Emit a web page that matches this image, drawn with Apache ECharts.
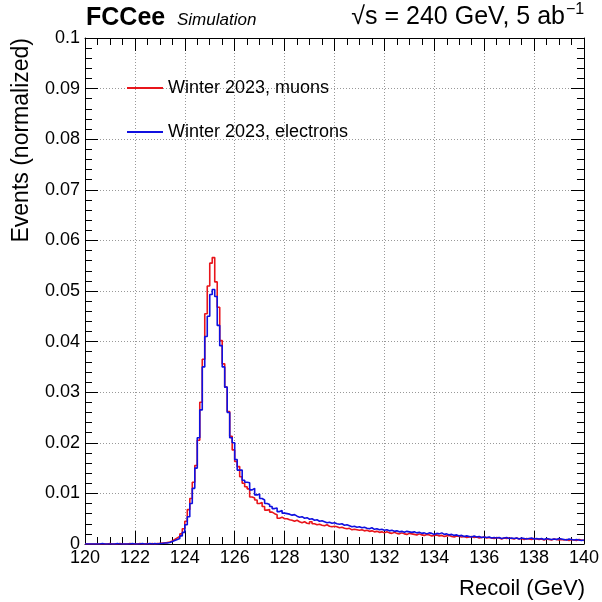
<!DOCTYPE html>
<html>
<head>
<meta charset="utf-8">
<script src="https://cdn.jsdelivr.net/npm/echarts@6/dist/echarts.min.js"></script>
<style>
html,body{margin:0;padding:0;background:#fff;}
#chart{width:602px;height:602px;}
</style>
</head>
<body>
<div id="chart"></div>
<script>
// Histogram binning
const binMin = 120;
const binWidth = 0.1;

// Tick labels
const xTicks = [120,122,124,126,128,130,132,134,136,138,140];
const yTicks = ["0","0.01","0.02","0.03","0.04","0.05","0.06","0.07","0.08","0.09","0.1"];

// Series names
const seriesNames = ["Winter 2023, muons", "Winter 2023, electrons"];

// Winter 2023, muons (normalized bin contents, 0.1 GeV bins from 120 to 140)
const muons = [
0,0,0,0,0,0,0,0,0,0.0001,
0,0,0,0.0001,0,0,0,0.0001,0,0,
0,0.0001,0,0,0.0001,0,0.0001,0,0.0001,0.0001,
0.0002,0.0002,0.0003,0.0004,0.0006,0.0009,0.0012,0.0015,0.0020,0.0030,
0.0045,0.0068,0.0090,0.0122,0.0155,0.0205,0.0280,0.0365,0.0455,0.0510,
0.0555,0.0566,0.0518,0.0468,0.0402,0.0356,0.0310,0.0262,0.0213,0.0186,
0.0163,0.0153,0.0133,0.0120,0.0113,0.0109,0.0093,0.0091,0.0087,0.0080,
0.0082,0.0074,0.0067,0.0068,0.0063,0.0060,0.0058,0.0051,0.0053,0.0050,
0.0050,0.0048,0.0047,0.0045,0.0047,0.0044,0.0042,0.0044,0.0041,0.0040,
0.0044,0.0040,0.0038,0.0039,0.0037,0.0036,0.0038,0.0035,0.0034,0.0035,
0.0034,0.0032,0.0033,0.0031,0.0030,0.0031,0.0028,0.0029,0.0028,0.0027,
0.0028,0.0026,0.0027,0.0025,0.0026,0.0024,0.0025,0.0023,0.0024,0.0022,
0.0024,0.0022,0.0021,0.0023,0.0021,0.0020,0.0022,0.0020,0.0019,0.0021,
0.0020,0.0019,0.0018,0.0020,0.0018,0.0017,0.0019,0.0018,0.0016,0.0017,
0.0018,0.0016,0.0017,0.0015,0.0016,0.0017,0.0015,0.0014,0.0016,0.0015,
0.0014,0.0015,0.0013,0.0014,0.0015,0.0013,0.0014,0.0012,0.0013,0.0014,
0.0012,0.0013,0.0012,0.0011,0.0013,0.0012,0.0010,0.0012,0.0011,0.0012,
0.0011,0.0010,0.0012,0.0010,0.0011,0.0009,0.0011,0.0010,0.0009,0.0011,
0.0010,0.0009,0.0010,0.0008,0.0010,0.0009,0.0008,0.0010,0.0009,0.0008,
0.0009,0.0008,0.0009,0.0007,0.0009,0.0008,0.0007,0.0009,0.0008,0.0007
];

// Winter 2023, electrons
const electrons = [
0,0,0,0,0,0,0.0001,0,0,0,
0,0,0.0001,0,0,0,0,0,0.0001,0,
0,0,0.0001,0,0,0.0001,0,0.0001,0,0.0001,
0.0001,0.0002,0.0002,0.0003,0.0005,0.0007,0.0009,0.0011,0.0016,0.0023,
0.0038,0.0054,0.0080,0.0110,0.0150,0.0210,0.0265,0.0350,0.0410,0.0450,
0.0493,0.0503,0.0489,0.0432,0.0392,0.0350,0.0310,0.0260,0.0210,0.0200,
0.0167,0.0146,0.0146,0.0126,0.0122,0.0121,0.0107,0.0110,0.0097,0.0099,
0.0090,0.0087,0.0080,0.0078,0.0074,0.0070,0.0071,0.0064,0.0066,0.0061,
0.0060,0.0059,0.0057,0.0058,0.0055,0.0053,0.0054,0.0051,0.0052,0.0049,
0.0050,0.0047,0.0048,0.0045,0.0046,0.0044,0.0042,0.0043,0.0041,0.0042,
0.0040,0.0039,0.0040,0.0037,0.0038,0.0036,0.0034,0.0035,0.0033,0.0034,
0.0032,0.0033,0.0031,0.0030,0.0032,0.0029,0.0030,0.0028,0.0029,0.0027,
0.0028,0.0026,0.0027,0.0025,0.0026,0.0024,0.0025,0.0023,0.0025,0.0024,
0.0023,0.0024,0.0022,0.0023,0.0021,0.0022,0.0020,0.0022,0.0021,0.0019,
0.0021,0.0020,0.0022,0.0019,0.0020,0.0018,0.0019,0.0017,0.0018,0.0016,
0.0017,0.0015,0.0016,0.0015,0.0014,0.0016,0.0014,0.0015,0.0013,0.0014,
0.0013,0.0014,0.0012,0.0013,0.0012,0.0013,0.0011,0.0012,0.0013,0.0011,
0.0012,0.0011,0.0012,0.0010,0.0012,0.0011,0.0010,0.0011,0.0012,0.0010,
0.0011,0.0010,0.0011,0.0009,0.0011,0.0010,0.0009,0.0010,0.0009,0.0011,
0.0010,0.0009,0.0008,0.0010,0.0009,0.0008,0.0009,0.0008,0.0007,0.0008
];

function histToStep(values){
  const pts = values.map((v,i)=>[+(binMin + i*binWidth).toFixed(4), v]);
  pts.push([+(binMin + values.length*binWidth).toFixed(4), values[values.length-1]]);
  return pts;
}

const FONT = '"Liberation Sans", Arial, Helvetica, sans-serif';
const chart = echarts.init(document.getElementById('chart'), null, {renderer:'canvas'});

const axisCommon = {
  axisLine:{show:true, onZero:false, lineStyle:{color:'#000', width:1}},
  axisTick:{show:true, inside:true, lineStyle:{color:'#000', width:1}},
  minorTick:{show:true, lineStyle:{color:'#000', width:1}}
};

const option = {
  animation:false,
  backgroundColor:'#fff',
  grid:{left:85, right:17, top:38, bottom:58},
  legend:{
    orient:'vertical', left:122, top:73, itemWidth:36, itemHeight:2, itemGap:24,
    icon:'rect',
    textStyle:{fontSize:18, color:'#000', fontFamily:FONT, lineHeight:20},
    data:seriesNames
  },
  xAxis:[
    Object.assign({}, axisCommon, {
      type:'value', min:xTicks[0], max:xTicks[xTicks.length-1], interval:2, position:'bottom',
      axisTick:{show:true, inside:true, length:13, lineStyle:{color:'#000'}},
      minorTick:{show:true, splitNumber:4, length:7, lineStyle:{color:'#000'}},
      splitLine:{show:true, lineStyle:{color:'#999', type:[1,2], width:1}},
      axisLabel:{fontSize:18, color:'#000', fontFamily:FONT, margin:5,
        formatter:(v)=> xTicks.indexOf(v)>=0 ? String(v) : ''}
    }),
    Object.assign({}, axisCommon, {
      type:'value', min:xTicks[0], max:xTicks[xTicks.length-1], interval:2, position:'top',
      axisTick:{show:true, inside:true, length:13, lineStyle:{color:'#000'}},
      minorTick:{show:true, splitNumber:4, length:7, lineStyle:{color:'#000'}},
      splitLine:{show:false}, axisLabel:{show:false}
    })
  ],
  yAxis:[
    Object.assign({}, axisCommon, {
      type:'value', min:0, max:0.1, interval:0.01, position:'left',
      axisTick:{show:true, inside:true, length:13, lineStyle:{color:'#000'}},
      minorTick:{show:true, splitNumber:5, length:7, lineStyle:{color:'#000'}},
      splitLine:{show:true, lineStyle:{color:'#999', type:[1,2], width:1}},
      axisLabel:{fontSize:18, color:'#000', fontFamily:FONT, margin:5,
        formatter:(v)=> yTicks[Math.round(v*100)] || ''}
    }),
    Object.assign({}, axisCommon, {
      type:'value', min:0, max:0.1, interval:0.01, position:'right',
      axisTick:{show:true, inside:true, length:13, lineStyle:{color:'#000'}},
      minorTick:{show:true, splitNumber:5, length:7, lineStyle:{color:'#000'}},
      splitLine:{show:false}, axisLabel:{show:false}
    })
  ],
  series:[
    {name:seriesNames[0], type:'line', step:'end', data:histToStep(muons), showSymbol:false, symbol:'none',
     xAxisIndex:0, yAxisIndex:0, color:'#e8151b', lineStyle:{color:'#e8151b', width:1.6}, z:3},
    {name:seriesNames[1], type:'line', step:'end', data:histToStep(electrons), showSymbol:false, symbol:'none',
     xAxisIndex:0, yAxisIndex:0, color:'#1010e0', lineStyle:{color:'#1010e0', width:1.6}, z:4}
  ],
  graphic:[
    {type:'text', left:86, top:6, style:{text:'FCCee', font:'bold 25px '+FONT, fill:'#000'}},
    {type:'text', left:177, top:12, style:{text:'Simulation', font:'italic 17px '+FONT, fill:'#000'}},
    {type:'text', right:37, top:5, style:{text:'\u221As = 240 GeV, 5 ab', font:'25px '+FONT, fill:'#000'}},
    {type:'text', left:566, top:2, style:{text:'\u22121', font:'16px '+FONT, fill:'#000'}},
    {type:'text', right:17, top:578, style:{text:'Recoil (GeV)', font:'22px '+FONT, fill:'#000'}},
    {type:'text', x:22, y:38, rotation:Math.PI/2,
     style:{text:'Events (normalized)', font:'23px '+FONT, fill:'#000', textAlign:'right', textVerticalAlign:'middle'}}
  ]
};
chart.setOption(option);
</script>
</body>
</html>
